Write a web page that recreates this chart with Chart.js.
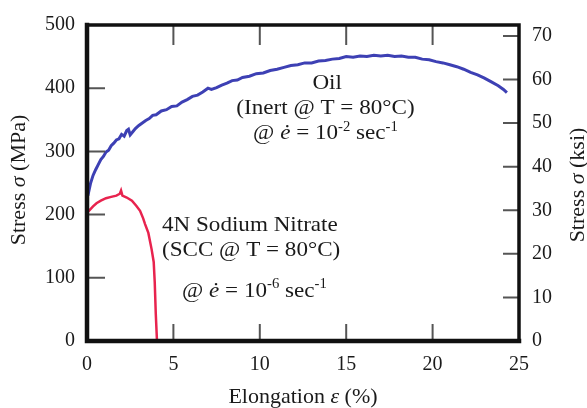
<!DOCTYPE html>
<html><head><meta charset="utf-8">
<script src="https://cdn.jsdelivr.net/npm/chart.js@4/dist/chart.umd.min.js"></script>
<style>html,body{margin:0;padding:0;background:#fff}#wrap{width:587px;height:408px}</style>
</head><body><div id="wrap"><canvas id="c" width="587" height="408"></canvas></div>
<script>
const oilStrain = [0.05,0.2,0.35,0.5,0.65,0.8,0.95,1.1,1.25,1.4,1.55,1.7,1.85,2.0,2.15,2.3,2.4,2.5,2.65,2.8,3.0,3.2,3.4,3.6,3.8,4.0,4.3,4.6,4.9,5.2,5.5,5.8,6.1,6.4,6.7,7.0,7.2,7.5,7.8,8.1,8.4,8.7,9.0,9.4,9.8,10.2,10.6,11.0,11.4,11.8,12.2,12.6,13.0,13.4,13.8,14.2,14.6,15.0,15.4,15.8,16.2,16.6,17.0,17.4,17.8,18.2,18.6,19.0,19.4,19.8,20.2,20.6,21.0,21.4,21.8,22.2,22.6,23.0,23.4,23.8,24.1,24.3];
const oilStress = [230,249,262,271,279,287,292,299,302,309,313,318,320,327,324,333,335,326,331,336,341,345,349,352,357,358,364,366,371,372,378,382,387,389,394,400,398,401,405,408,412,413,417,419,423,424,428,430,433,436,437,440,440,443,444,446,447,450,449,451,450,452,451,452,450,451,449,449,446,445,442,440,437,434,430,425,421,416,410,404,398,393];
const sccStrain = [0.0,0.15,0.35,0.55,0.8,1.1,1.4,1.7,1.9,1.97,2.05,2.3,2.6,2.85,3.07,3.25,3.36,3.55,3.74,3.86,3.92,3.98,4.05];
const sccStress = [203,207,213,218,222,226,228,230,233,238,230,227,222,214,206,194,185,171,145,125,93,43,0];
const xTicks = [0,5,10,15,20,25];
const mpaTicks = [0,100,200,300,400,500];
const ksiTicks = [0,10,20,30,40,50,60,70];
const MPA_PER_KSI = 6.895;

const FAM = '"Liberation Serif","Times New Roman",serif';
const toPts = (xs, ys) => xs.map((x, i) => ({x, y: ys[i]}));

function drawRich(ctx, parts, x, y, align, size, sx) {
  const fontFor = p => (p.i ? 'italic ' : '') + (p.sup ? Math.round(size * 0.62) : size) + 'px ' + FAM;
  let w = 0;
  parts.forEach(p => { ctx.font = fontFor(p); p.w = ctx.measureText(p.t).width; w += p.w; });
  ctx.save();
  ctx.translate(x, y);
  ctx.scale(sx, 1);
  let cx = align === 'center' ? -w / 2 : 0;
  ctx.textBaseline = 'alphabetic'; ctx.textAlign = 'left'; ctx.fillStyle = '#1a1a1a';
  parts.forEach(p => { ctx.font = fontFor(p); ctx.fillText(p.t, cx, p.sup ? -size * 0.4 : 0); cx += p.w; });
  ctx.restore();
}

const framePlugin = {
  id: 'frame',
  afterDatasetsDraw(chart) {
    const ctx = chart.ctx, a = chart.chartArea;
    const xs = chart.scales.x, ys = chart.scales.y, y2 = chart.scales.y2;
    ctx.save();
    ctx.strokeStyle = '#555'; ctx.lineWidth = 2;
    ctx.beginPath();
    mpaTicks.slice(1, -1).forEach(v => { const py = ys.getPixelForValue(v); ctx.moveTo(a.left, py); ctx.lineTo(a.left + 18, py); });
    ksiTicks.slice(1).forEach(v => { const py = y2.getPixelForValue(v); ctx.moveTo(a.right, py); ctx.lineTo(a.right - 16, py); });
    xTicks.slice(1, -1).forEach(v => { const px = xs.getPixelForValue(v); ctx.moveTo(px, a.bottom); ctx.lineTo(px, a.bottom - 17); ctx.moveTo(px, a.top); ctx.lineTo(px, a.top + 20); });
    ctx.stroke();
    ctx.strokeStyle = '#111'; ctx.lineCap = 'square';
    ctx.lineWidth = 4.5;
    ctx.beginPath(); ctx.moveTo(a.left, a.top); ctx.lineTo(a.left, a.bottom); ctx.lineTo(a.right, a.bottom); ctx.stroke();
    ctx.lineWidth = 3.5;
    ctx.beginPath(); ctx.moveTo(a.left, a.top); ctx.lineTo(a.right, a.top); ctx.lineTo(a.right, a.bottom); ctx.stroke();
    ctx.restore();
  },
  afterDraw(chart) {
    const ctx = chart.ctx, a = chart.chartArea;
    const xs = chart.scales.x, ys = chart.scales.y;
    const X = v => xs.getPixelForValue(v), Y = v => ys.getPixelForValue(v);
    const S = 22, SX = 1.05;
    // Oil annotation
    drawRich(ctx, [{t: 'Oil'}], X(13.9), Y(398), 'center', S, SX);
    drawRich(ctx, [{t: '(Inert @ T = 80°C)'}], X(13.8), Y(359), 'center', S, SX);
    drawRich(ctx, [{t: '@ '}, {t: 'ė', i: true}, {t: ' = 10'}, {t: '-2', sup: true}, {t: ' sec'}, {t: '-1', sup: true}], X(13.8), Y(319), 'center', S, SX);
    // SCC annotation
    drawRich(ctx, [{t: '4N Sodium Nitrate'}], X(4.34), Y(174), 'left', S, SX);
    drawRich(ctx, [{t: '(SCC @ T = 80°C)'}], X(4.34), Y(134), 'left', S, SX);
    drawRich(ctx, [{t: '@ '}, {t: 'ė', i: true}, {t: ' = 10'}, {t: '-6', sup: true}, {t: ' sec'}, {t: '-1', sup: true}], X(5.5), Y(70), 'left', S, SX);
    // axis titles
    drawRich(ctx, [{t: 'Elongation '}, {t: 'ε', i: true}, {t: ' (%)'}], (a.left + a.right) / 2, a.bottom + 62, 'center', 22, 1);
    ctx.save(); ctx.translate(25, 180); ctx.rotate(-Math.PI / 2);
    drawRich(ctx, [{t: 'Stress '}, {t: 'σ', i: true}, {t: ' (MPa)'}], 0, 0, 'center', 22, 1);
    ctx.restore();
    ctx.save(); ctx.translate(584, 185); ctx.rotate(-Math.PI / 2);
    drawRich(ctx, [{t: 'Stress '}, {t: 'σ', i: true}, {t: ' (ksi)'}], 0, 0, 'center', 22, 1);
    ctx.restore();
  }
};

const tickFont = {family: FAM, size: 20};
new Chart(document.getElementById('c'), {
  type: 'scatter',
  data: {
    datasets: [
      {data: toPts(oilStrain, oilStress), showLine: true, borderColor: '#3d40b4', borderWidth: 3, pointRadius: 0, tension: 0},
      {data: toPts(sccStrain, sccStress), showLine: true, borderColor: '#e8234e', borderWidth: 2.5, pointRadius: 0, tension: 0}
    ]
  },
  options: {
    responsive: false, animation: false, devicePixelRatio: 1,
    layout: {padding: {top: 14, left: 0, right: 0, bottom: 0}},
    plugins: {legend: {display: false}, tooltip: {enabled: false}},
    scales: {
      x: {type: 'linear', min: 0, max: 25,
        afterBuildTicks: s => { s.ticks = xTicks.map(v => ({value: v})); },
        afterFit: s => { s.height = 67; },
        grid: {display: false, drawTicks: false}, border: {display: false},
        ticks: {font: tickFont, color: '#1a1a1a', padding: 12, maxRotation: 0}},
      y: {type: 'linear', position: 'left', min: 0, max: 500,
        afterBuildTicks: s => { s.ticks = mpaTicks.map(v => ({value: v})); },
        afterFit: s => { s.width = 87; },
        grid: {display: false, drawTicks: false}, border: {display: false},
        ticks: {font: tickFont, color: '#1a1a1a', padding: 12}},
      y2: {type: 'linear', position: 'right', min: 0, max: 500 / MPA_PER_KSI,
        afterBuildTicks: s => { s.ticks = ksiTicks.map(v => ({value: v})); },
        afterFit: s => { s.width = 68; },
        grid: {display: false, drawTicks: false}, border: {display: false},
        ticks: {font: tickFont, color: '#1a1a1a', padding: 13}}
    }
  },
  plugins: [framePlugin]
});
</script></body></html>
